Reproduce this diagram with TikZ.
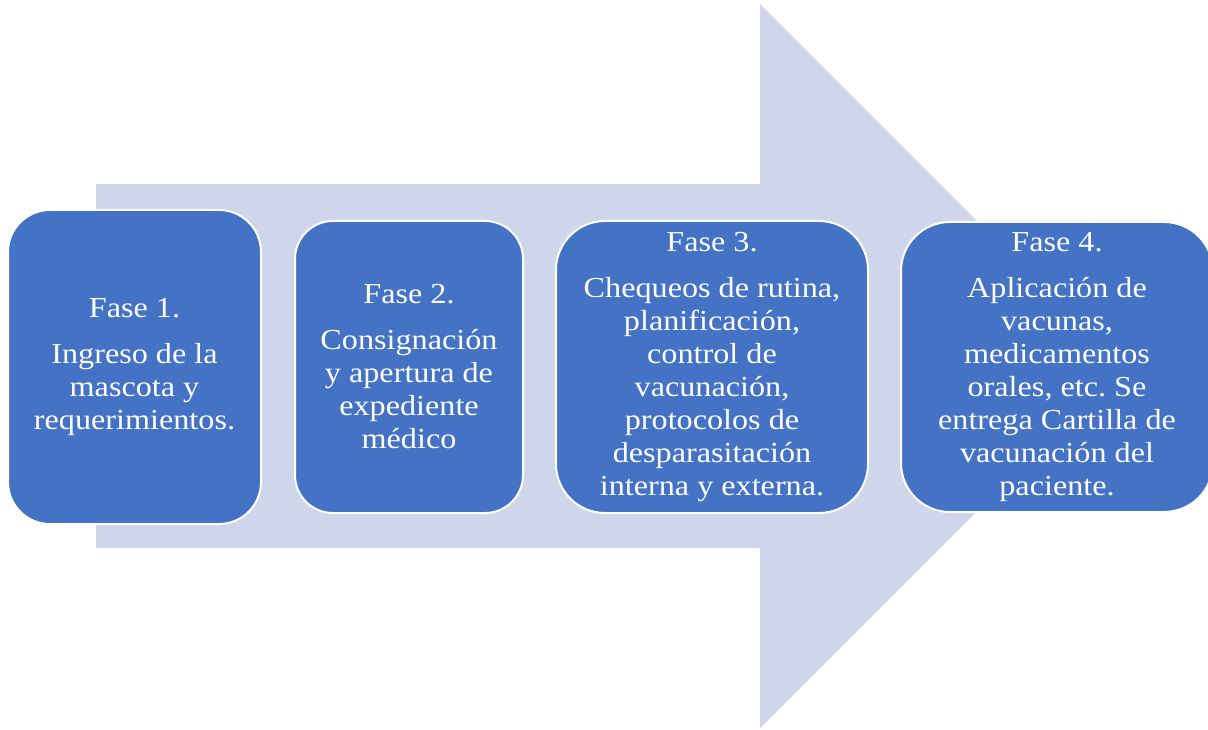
\documentclass[tikz,border=0pt]{standalone}
\usepackage{fontspec}
\setmainfont{Liberation Serif}[FakeStretch=1.11]
\definecolor{phase}{HTML}{4472C4}
\definecolor{flow}{HTML}{CFD5EA}
\frenchspacing

\begin{document}
\begin{tikzpicture}[x=1pt,y=-1pt,
  phasebox/.style={draw=white, line width=2pt, fill=phase, text=white,
    align=center, inner sep=0pt, font=\fontsize{29}{33}\selectfont}]
\useasboundingbox (0,0) rectangle (1208,730);
\clip (0,0) rectangle (1208,730);

% wide background arrow
\fill[flow] (96,184) -- (760,184) -- (760,4) -- (1122,366)
  -- (760,728) -- (760,548) -- (96,548) -- cycle;

% the four phases
\node[phasebox, rounded corners=42pt, minimum width=253pt, minimum height=314pt]
  (f1) at (134.5,367)
  {Fase 1.\\[13pt]Ingreso de la\\mascota y\\requerimientos.};
\node[phasebox, rounded corners=38pt, minimum width=228pt, minimum height=292pt]
  (f2) at (409,367)
  {Fase 2.\\[13pt]Consignación\\y apertura de\\expediente\\médico};
\node[phasebox, rounded corners=49pt, minimum width=312pt, minimum height=292pt]
  (f3) at (712,367)
  {Fase 3.\\[13pt]Chequeos de rutina,\\planificación,\\control de\\vacunación,\\protocolos de\\desparasitación\\interna y externa.};
\node[phasebox, rounded corners=49pt, minimum width=312pt, minimum height=290pt]
  (f4) at (1057,367)
  {Fase 4.\\[13pt]Aplicación de\\vacunas,\\medicamentos\\orales, etc. Se\\entrega Cartilla de\\vacunación del\\paciente.};
\end{tikzpicture}
\end{document}
